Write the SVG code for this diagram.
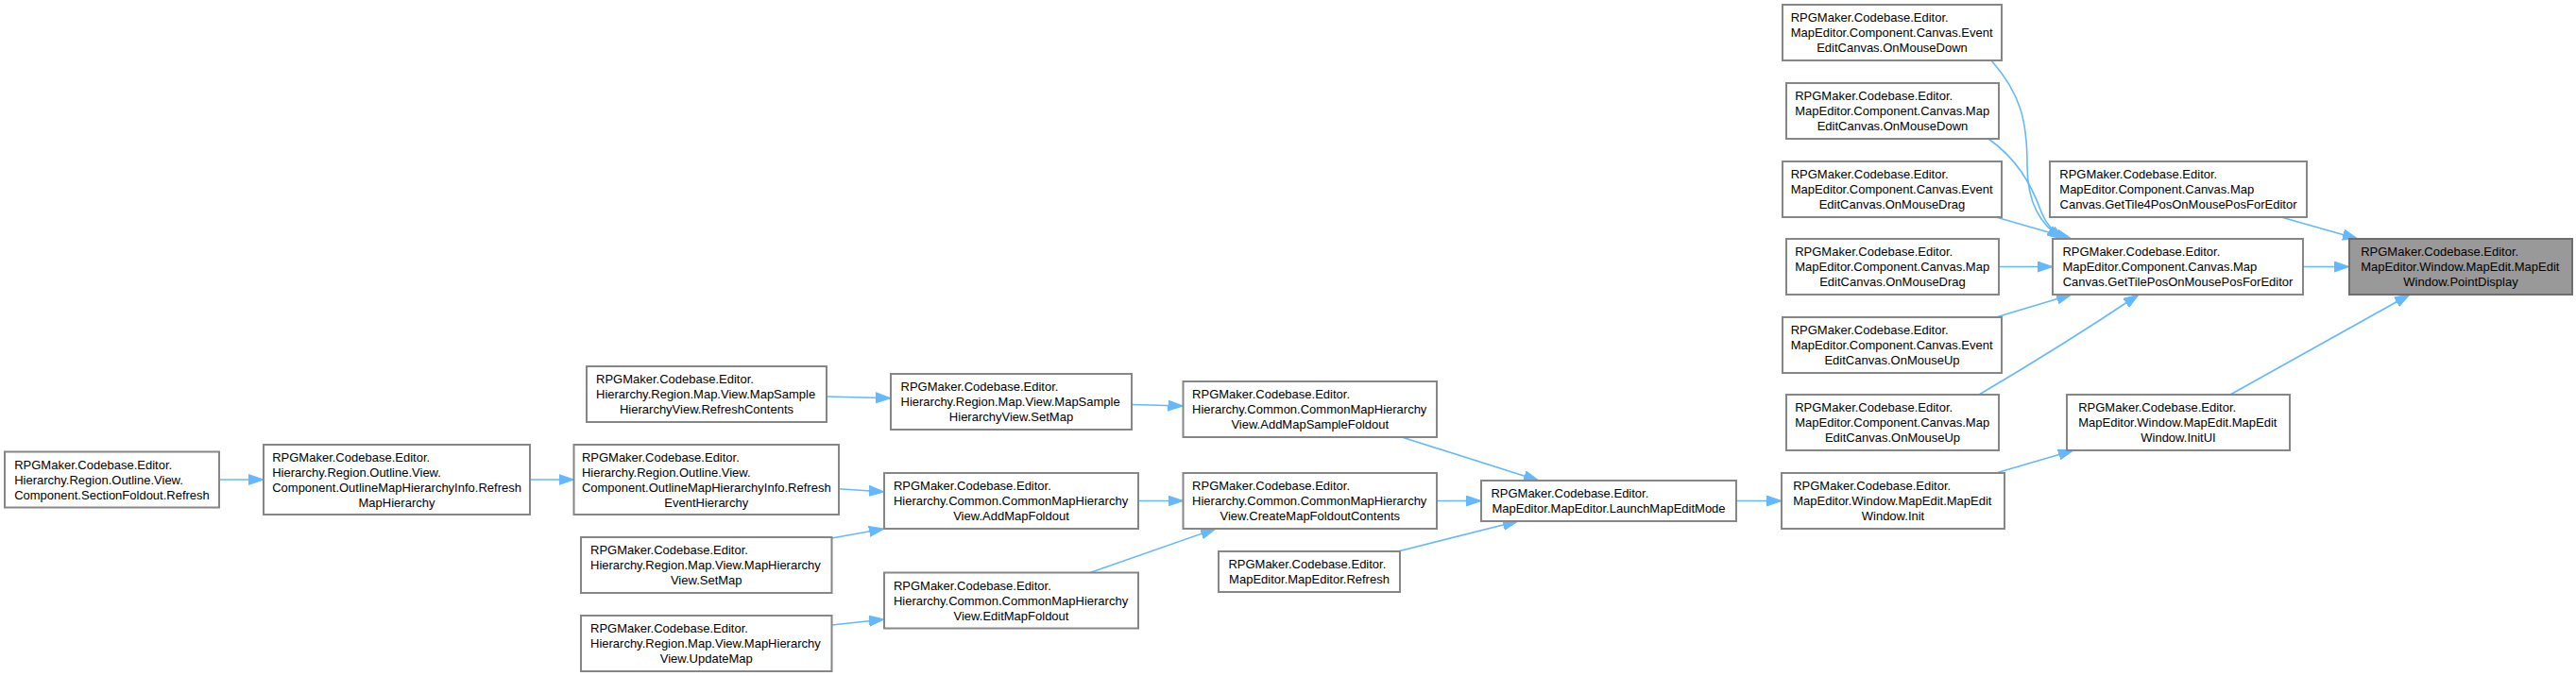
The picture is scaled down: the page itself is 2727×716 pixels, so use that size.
<svg xmlns="http://www.w3.org/2000/svg" width="2727" height="716" viewBox="0 0 2727 716">
<style>
rect{fill:#fff;stroke:#868686;stroke-width:2}
.hl rect{fill:#999;stroke:#6e6e6e}
text{font-family:"Liberation Sans",Arial,sans-serif;font-size:13px;fill:#000}
.m{text-anchor:middle}
.e path{fill:none;stroke:#63B8FF;stroke-width:1.6;marker-end:url(#ah)}
</style>
<defs>
<marker id="ah" markerUnits="userSpaceOnUse" markerWidth="16" markerHeight="12" viewBox="0 0 16 12" refX="16" refY="6" orient="auto">
<path d="M0,0.5 L16,6 L0,11.5 z" fill="#63B8FF" stroke="#63B8FF" stroke-width="1"/>
</marker>
</defs>
<rect x="0" y="0" width="2727" height="716" style="fill:#fff;stroke:none"/>
<g class="e" id="edges">
<path d="M2108,64 C2140,100 2146,130 2146,175 C2146,215 2160,238 2183,253"/>
<path d="M2105,147 C2135,168 2150,195 2160,222 C2166,238 2174,246 2186,253"/>
<path d="M2113,230 L2193,253"/>
<path d="M2117,282.5 L2173,282.5"/>
<path d="M2113,336 L2193,312"/>
<path d="M2095,418 Q2185,365 2264,312"/>
<path d="M2415,230 L2496,253"/>
<path d="M2438,282.5 L2487,282.5"/>
<path d="M2361,418 L2551,312"/>
<path d="M2113,501 L2195,477"/>
<path d="M1838,530.5 L1886,530.5"/>
<path d="M1484,463 L1629,509"/>
<path d="M1521,530.5 L1568,530.5"/>
<path d="M1480,584 L1607,552"/>
<path d="M1198,428.5 L1252.5,430"/>
<path d="M1205,530.5 L1252.5,530.5"/>
<path d="M1154,606.5 L1287,560"/>
<path d="M875,420 L943,421.7"/>
<path d="M888,517.7 L936,521"/>
<path d="M880.5,570 L936,560"/>
<path d="M880.5,662 L936,656"/>
<path d="M561,508 L607.5,508"/>
<path d="M232,508 L279,508"/>
</g>
<g id="n_ev_down"><rect x="1887" y="5" width="232" height="59"/><text x="1895.7" y="23">RPGMaker.Codebase.Editor.</text><text x="1895.7" y="39">MapEditor.Component.Canvas.Event</text><text class="m" x="2003" y="55">EditCanvas.OnMouseDown</text></g>
<g id="n_map_down"><rect x="1891" y="88" width="225" height="59"/><text x="1900.2" y="106">RPGMaker.Codebase.Editor.</text><text x="1900.2" y="122">MapEditor.Component.Canvas.Map</text><text class="m" x="2003.5" y="138">EditCanvas.OnMouseDown</text></g>
<g id="n_ev_drag"><rect x="1887" y="171" width="232" height="59"/><text x="1895.7" y="189">RPGMaker.Codebase.Editor.</text><text x="1895.7" y="205">MapEditor.Component.Canvas.Event</text><text class="m" x="2003" y="221">EditCanvas.OnMouseDrag</text></g>
<g id="n_map_drag"><rect x="1891" y="253" width="225" height="59"/><text x="1900.2" y="271">RPGMaker.Codebase.Editor.</text><text x="1900.2" y="287">MapEditor.Component.Canvas.Map</text><text class="m" x="2003.5" y="303">EditCanvas.OnMouseDrag</text></g>
<g id="n_ev_up"><rect x="1887" y="336" width="232" height="59"/><text x="1895.7" y="354">RPGMaker.Codebase.Editor.</text><text x="1895.7" y="370">MapEditor.Component.Canvas.Event</text><text class="m" x="2003" y="386">EditCanvas.OnMouseUp</text></g>
<g id="n_map_up"><rect x="1891" y="418" width="225" height="59"/><text x="1900.2" y="436">RPGMaker.Codebase.Editor.</text><text x="1900.2" y="452">MapEditor.Component.Canvas.Map</text><text class="m" x="2003.5" y="468">EditCanvas.OnMouseUp</text></g>
<g id="n_init"><rect x="1886" y="501" width="236" height="59"/><text x="1898.2" y="519">RPGMaker.Codebase.Editor.</text><text x="1898.2" y="535">MapEditor.Window.MapEdit.MapEdit</text><text class="m" x="2004" y="551">Window.Init</text></g>
<g id="n_tile4"><rect x="2170" y="171" width="272" height="59"/><text x="2180.3" y="189">RPGMaker.Codebase.Editor.</text><text x="2180.3" y="205">MapEditor.Component.Canvas.Map</text><text class="m" x="2306" y="221">Canvas.GetTile4PosOnMousePosForEditor</text></g>
<g id="n_tile"><rect x="2173" y="253" width="265" height="59"/><text x="2183.4" y="271">RPGMaker.Codebase.Editor.</text><text x="2183.4" y="287">MapEditor.Component.Canvas.Map</text><text class="m" x="2305.5" y="303">Canvas.GetTilePosOnMousePosForEditor</text></g>
<g id="n_point" class="hl"><rect x="2487" y="253" width="236" height="59"/><text x="2499.2" y="271">RPGMaker.Codebase.Editor.</text><text x="2499.2" y="287">MapEditor.Window.MapEdit.MapEdit</text><text class="m" x="2605" y="303">Window.PointDisplay</text></g>
<g id="n_initui"><rect x="2188" y="418" width="236" height="59"/><text x="2200.2" y="436">RPGMaker.Codebase.Editor.</text><text x="2200.2" y="452">MapEditor.Window.MapEdit.MapEdit</text><text class="m" x="2306" y="468">Window.InitUI</text></g>
<g id="n_launch"><rect x="1568" y="509" width="270" height="43"/><text x="1578.4" y="527">RPGMaker.Codebase.Editor.</text><text class="m" x="1703" y="543">MapEditor.MapEditor.LaunchMapEditMode</text></g>
<g id="n_addsample"><rect x="1252.5" y="404" width="268.5" height="59"/><text x="1262.1" y="422">RPGMaker.Codebase.Editor.</text><text x="1262.1" y="438">Hierarchy.Common.CommonMapHierarchy</text><text class="m" x="1386.75" y="454">View.AddMapSampleFoldout</text></g>
<g id="n_create"><rect x="1252.5" y="501" width="268.5" height="59"/><text x="1262.1" y="519">RPGMaker.Codebase.Editor.</text><text x="1262.1" y="535">Hierarchy.Common.CommonMapHierarchy</text><text class="m" x="1386.75" y="551">View.CreateMapFoldoutContents</text></g>
<g id="n_refresh"><rect x="1290" y="584" width="192" height="43"/><text x="1300.4" y="602">RPGMaker.Codebase.Editor.</text><text class="m" x="1386" y="618">MapEditor.MapEditor.Refresh</text></g>
<g id="n_sample_setmap"><rect x="943" y="396" width="255" height="59"/><text x="953.5" y="414">RPGMaker.Codebase.Editor.</text><text x="953.5" y="430">Hierarchy.Region.Map.View.MapSample</text><text class="m" x="1070.5" y="446">HierarchyView.SetMap</text></g>
<g id="n_refresh_contents"><rect x="621" y="388" width="254" height="59"/><text x="631" y="406">RPGMaker.Codebase.Editor.</text><text x="631" y="422">Hierarchy.Region.Map.View.MapSample</text><text class="m" x="748" y="438">HierarchyView.RefreshContents</text></g>
<g id="n_refresh_event"><rect x="607.5" y="471" width="280.5" height="74"/><text x="615.9" y="488.5">RPGMaker.Codebase.Editor.</text><text x="615.9" y="504.5">Hierarchy.Region.Outline.View.</text><text x="615.9" y="520.5">Component.OutlineMapHierarchyInfo.Refresh</text><text class="m" x="747.75" y="536.5">EventHierarchy</text></g>
<g id="n_addmap"><rect x="936" y="501" width="269" height="59"/><text x="945.9" y="519">RPGMaker.Codebase.Editor.</text><text x="945.9" y="535">Hierarchy.Common.CommonMapHierarchy</text><text class="m" x="1070.5" y="551">View.AddMapFoldout</text></g>
<g id="n_hier_setmap"><rect x="615" y="569" width="265.5" height="59"/><text x="625" y="587">RPGMaker.Codebase.Editor.</text><text x="625" y="603">Hierarchy.Region.Map.View.MapHierarchy</text><text class="m" x="747.75" y="619">View.SetMap</text></g>
<g id="n_editmap"><rect x="936" y="606.5" width="269" height="59"/><text x="945.9" y="624.5">RPGMaker.Codebase.Editor.</text><text x="945.9" y="640.5">Hierarchy.Common.CommonMapHierarchy</text><text class="m" x="1070.5" y="656.5">View.EditMapFoldout</text></g>
<g id="n_updatemap"><rect x="615" y="652" width="265.5" height="59"/><text x="625" y="670">RPGMaker.Codebase.Editor.</text><text x="625" y="686">Hierarchy.Region.Map.View.MapHierarchy</text><text class="m" x="747.75" y="702">View.UpdateMap</text></g>
<g id="n_section"><rect x="5" y="478.5" width="227" height="59"/><text x="15.2" y="496.5">RPGMaker.Codebase.Editor.</text><text x="15.2" y="512.5">Hierarchy.Region.Outline.View.</text><text class="m" x="118.5" y="528.5">Component.SectionFoldout.Refresh</text></g>
<g id="n_refresh_map"><rect x="279" y="471" width="282" height="74"/><text x="288.2" y="488.5">RPGMaker.Codebase.Editor.</text><text x="288.2" y="504.5">Hierarchy.Region.Outline.View.</text><text x="288.2" y="520.5">Component.OutlineMapHierarchyInfo.Refresh</text><text class="m" x="420" y="536.5">MapHierarchy</text></g>
</svg>
